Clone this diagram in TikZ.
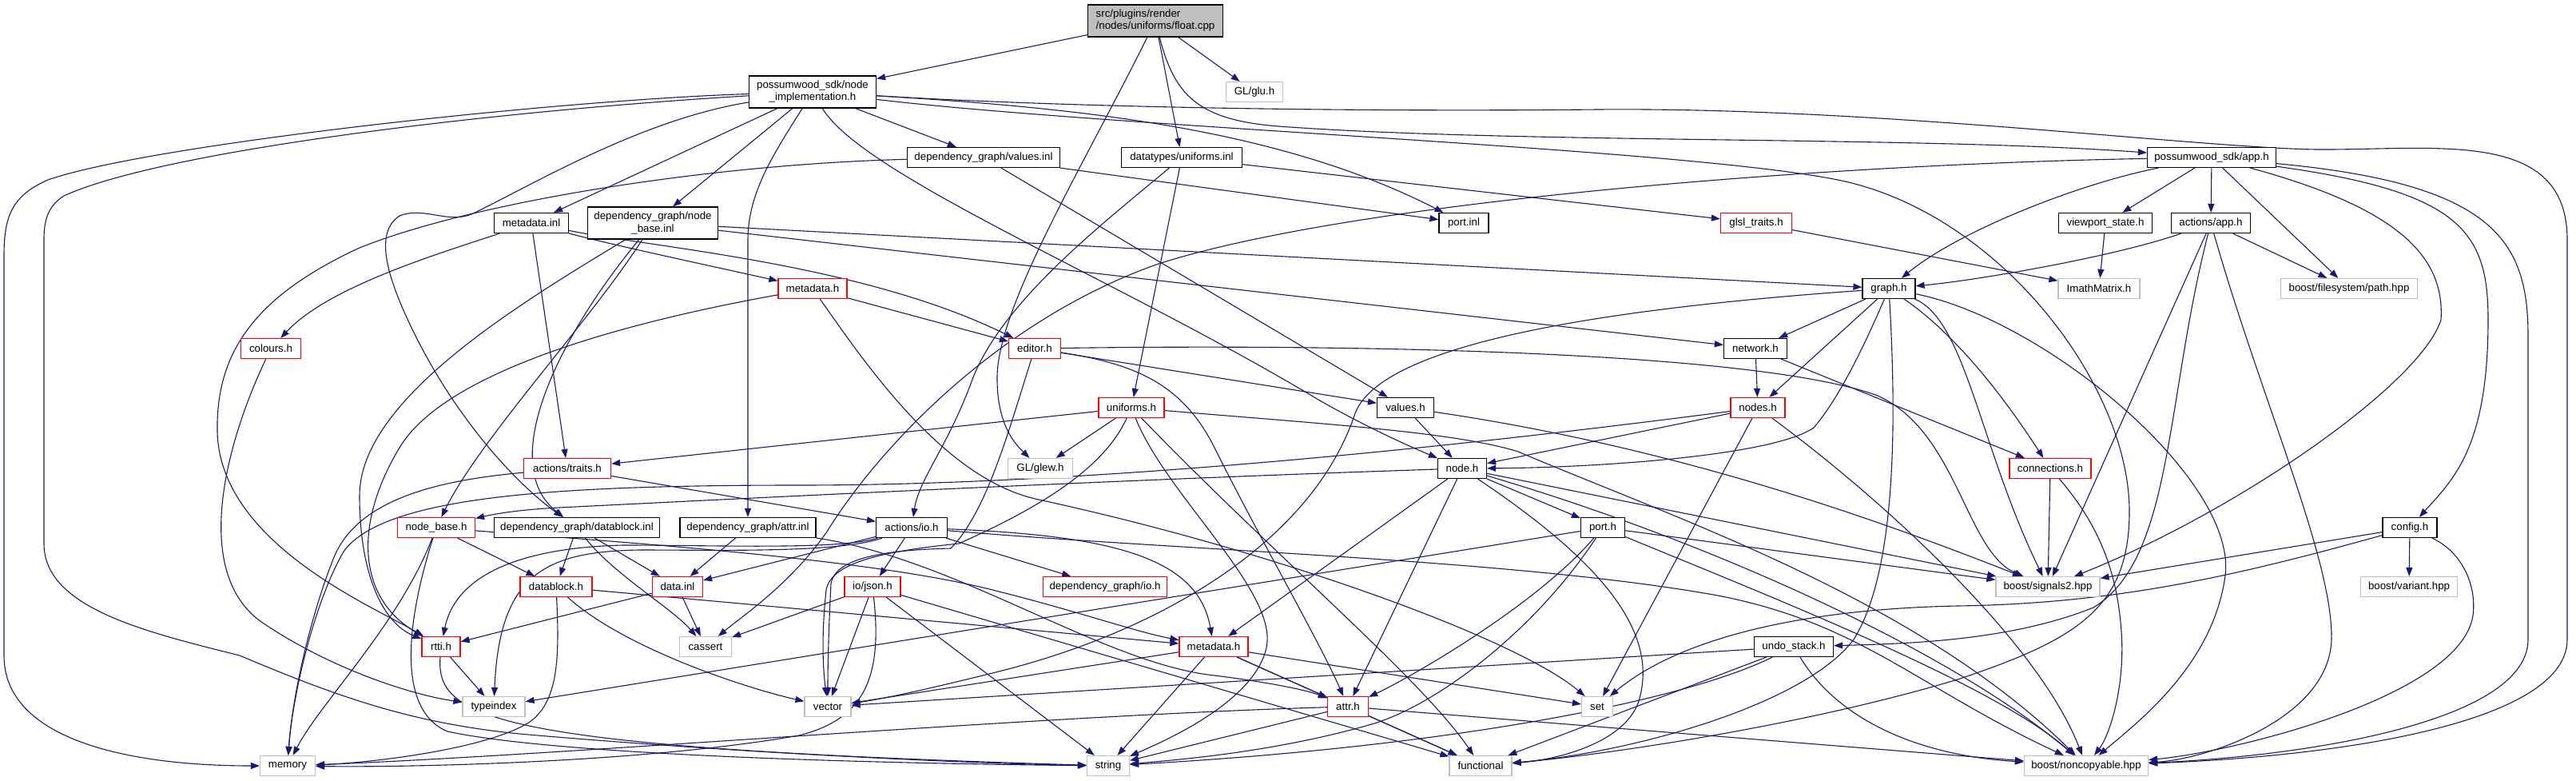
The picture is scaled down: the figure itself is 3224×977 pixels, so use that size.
\documentclass[tikz,border=0pt]{standalone}
\usepackage{fontspec}
\setmainfont{Liberation Sans}
\usetikzlibrary{arrows.meta}
\pgfdeclarelayer{edges}
\pgfsetlayers{edges,main}
\definecolor{edgec}{HTML}{191970}
\definecolor{gbord}{HTML}{BFBFBF}
\definecolor{redb}{HTML}{FF0000}
\begin{document}
\begin{tikzpicture}[x=1pt,y=-1pt,
  nd/.style={draw=black, line width=1.2pt, fill=white, minimum height=25pt, inner sep=0pt, font=\fontsize{13.3pt}{15pt}\selectfont, align=center},
  rd/.style={nd, draw=redb},
  gd/.style={nd, draw=gbord},
  e/.style={draw=edgec, line width=1.1pt, -{Triangle[length=11pt,width=8pt]}}]
\begin{pgfonlayer}{edges}
\fill[white] (0,0) rectangle (3224,977);
\end{pgfonlayer}
\useasboundingbox (0,0) rectangle (3224,977);
% nodes
\node[nd, fill=gbord, minimum width=169pt, minimum height=40pt, align=left] (root) at (1446,26) {src/plugins/render\\/nodes/uniforms/float.cpp};
\node[nd, minimum width=159pt, minimum height=40pt] (nimpl) at (1017,115) {possumwood\_sdk/node\\\_implementation.h};
\node[gd, minimum width=71pt] (glu) at (1570,115) {GL/glu.h};
\node[nd, minimum width=191pt] (valinl) at (1231,197) {dependency\_graph/values.inl};
\node[nd, minimum width=151pt] (uniinl) at (1479,197) {datatypes/uniforms.inl};
\node[nd, minimum width=161pt] (app) at (2768,197) {possumwood\_sdk/app.h};
\node[nd, minimum width=93pt] (mdinl) at (665,279) {metadata.inl};
\node[nd, minimum width=163pt, minimum height=40pt] (nbinl) at (817,279) {dependency\_graph/node\\\_base.inl};
\node[nd, minimum width=62pt] (portinl) at (1832,279) {port.inl};
\node[rd, minimum width=89pt] (glsl) at (2198,279) {glsl\_traits.h};
\node[nd, minimum width=117pt] (vps) at (2635,279) {viewport\_state.h};
\node[nd, minimum width=99pt] (aapp) at (2767,279) {actions/app.h};
\node[rd, minimum width=75pt] (colours) at (339,436) {colours.h};
\node[rd, minimum width=86pt] (mdh) at (1017,361) {metadata.h};
\node[rd, minimum width=65pt] (editor) at (1295,436) {editor.h};
\node[nd, minimum width=66pt] (graph) at (2364,361) {graph.h};
\node[nd, minimum width=79pt] (network) at (2197,436) {network.h};
\node[gd, minimum width=102pt] (imath) at (2627,361) {ImathMatrix.h};
\node[gd, minimum width=171pt] (fspath) at (2940,361) {boost/filesystem/path.hpp};
\node[rd, minimum width=82pt] (unih) at (1416,510) {uniforms.h};
\node[nd, minimum width=71pt] (valh) at (1759,510) {values.h};
\node[rd, minimum width=68pt] (nodes) at (2200,510) {nodes.h};
\node[rd, minimum width=109pt] (traits) at (710,586) {actions/traits.h};
\node[gd, minimum width=81pt] (glew) at (1302,586) {GL/glew.h};
\node[nd, minimum width=61pt] (nodeh) at (1830,586) {node.h};
\node[rd, minimum width=102pt] (conn) at (2566,586) {connections.h};
\node[rd, minimum width=97pt] (nbh) at (546,660) {node\_base.h};
\node[nd, minimum width=207pt] (dbinl) at (722,660) {dependency\_graph/datablock.inl};
\node[nd, minimum width=170pt] (attrinl) at (936,660) {dependency\_graph/attr.inl};
\node[nd, minimum width=89pt] (aio) at (1141,660) {actions/io.h};
\node[nd, minimum width=55pt] (porth) at (2006,660) {port.h};
\node[nd, minimum width=68pt] (config) at (3016,660) {config.h};
\node[rd, minimum width=90pt] (dbh) at (696,734) {datablock.h};
\node[rd, minimum width=63pt] (datainl) at (848,734) {data.inl};
\node[rd, minimum width=70pt] (json) at (1092,734) {io/json.h};
\node[rd, minimum width=155pt] (dgio) at (1383,734) {dependency\_graph/io.h};
\node[gd, minimum width=130pt] (signals) at (2563,734) {boost/signals2.hpp};
\node[gd, minimum width=121pt] (variant) at (3015,734) {boost/variant.hpp};
\node[rd, minimum width=48pt] (rtti) at (552,809) {rtti.h};
\node[gd, minimum width=65pt] (cassert) at (883,809) {cassert};
\node[rd, minimum width=86pt] (mdl) at (1519,809) {metadata.h};
\node[nd, minimum width=99pt] (undo) at (2245,809) {undo\_stack.h};
\node[gd, minimum width=78pt] (typeindex) at (618,884) {typeindex};
\node[gd, minimum width=58pt] (vector) at (1036,884) {vector};
\node[rd, minimum width=51pt] (attrh) at (1687,884) {attr.h};
\node[gd, minimum width=39pt] (set) at (1999,884) {set};
\node[gd, minimum width=69pt] (memory) at (360,958) {memory};
\node[gd, minimum width=53pt] (string) at (1387,958) {string};
\node[gd, minimum width=78pt] (functional) at (1853,958) {functional};
\node[gd, minimum width=155pt] (noncopy) at (2611,958) {boost/noncopyable.hpp};
\begin{pgfonlayer}{edges}
% root
\draw[e] (root) -- (nimpl);
\draw[e] (root) -- (glu);
\draw[e] (root) -- (uniinl);
\draw[e] (root) .. controls (1470,120) and (1500,150) .. (1600,158) .. controls (1900,180) and (2400,170) .. (app);
\draw[e] (root) .. controls (1360,200) and (1250,380) .. (1248,470) .. controls (1247,530) and (1270,555) .. (glew);
% node_implementation
\draw[e] (nimpl) .. controls (700,125) and (190,180) .. (60,225) .. controls (15,245) and (5,270) .. (5,320) -- (5,820) .. controls (5,925) and (160,958) .. (memory);
\draw[e] (nimpl) .. controls (600,140) and (200,190) .. (80,245) .. controls (60,258) and (55,275) .. (55,300) -- (55,680) .. controls (55,760) and (180,790) .. (300,820) .. controls (430,875) and (520,905) .. (650,918) .. controls (900,940) and (1200,955) .. (string);
\draw[e] (nimpl) -- (valinl);
\draw[e] (nimpl) -- (mdinl);
\draw[e] (nimpl) -- (nbinl);
\draw[e] (nimpl) .. controls (800,150) and (660,235) .. (590,268) .. controls (560,280) and (530,258) .. (500,270) .. controls (470,290) and (480,340) .. (520,420) .. controls (570,520) and (640,600) .. (dbinl);
\draw[e] (nimpl) .. controls (970,190) and (936,240) .. (936,300) -- (attrinl);
\draw[e] (nimpl) .. controls (1080,220) and (1400,350) .. (1650,500) .. controls (1720,540) and (1780,565) .. (nodeh);
\draw[e] (nimpl) .. controls (1350,135) and (1600,160) .. (portinl);
\draw[e] (nimpl) .. controls (1350,135) and (1700,140) .. (2000,137) .. controls (2350,134) and (2750,185) .. (2900,187) .. controls (3050,188) and (3213,160) .. (3213,300) -- (3213,800) .. controls (3213,900) and (2950,945) .. (noncopy);
\draw[e] (nimpl) .. controls (1400,160) and (2100,185) .. (2300,225) .. controls (2500,265) and (2665,480) .. (2665,640) .. controls (2665,760) and (2600,800) .. (2450,850) .. controls (2250,910) and (2000,945) .. (functional);
% values.inl
\draw[e] (valinl) -- (portinl);
\draw[e] (valinl) -- (valh);
\draw[e] (valinl) .. controls (900,205) and (600,250) .. (450,310) .. controls (320,370) and (270,440) .. (272,540) .. controls (275,680) and (470,760) .. (rtti);
% uniforms.inl
\draw[e] (uniinl) -- (glsl);
\draw[e] (uniinl) -- (unih);
\draw[e] (uniinl) .. controls (1380,280) and (1250,380) .. (1215,480) .. controls (1185,560) and (1150,600) .. (aio);
% app.h
\draw[e] (app) -- (vps);
\draw[e] (app) -- (aapp);
\draw[e] (app) -- (fspath);
\draw[e] (app) .. controls (2600,230) and (2450,290) .. (graph);
\draw[e] (app) .. controls (3000,260) and (3060,320) .. (3055,400) .. controls (3030,480) and (2800,640) .. (signals);
\draw[e] (app) .. controls (3080,240) and (3114,290) .. (3114,400) .. controls (3114,560) and (3070,600) .. (config);
\draw[e] (app) .. controls (3120,230) and (3164,300) .. (3164,420) -- (3164,800) .. controls (3164,900) and (2900,945) .. (noncopy);
\draw[e] (app) .. controls (2300,205) and (1700,250) .. (1450,330) .. controls (1250,400) and (1100,560) .. (1035,665) .. controls (990,730) and (930,770) .. (cassert);
% metadata.inl
\draw[e] (mdinl) .. controls (540,320) and (410,360) .. (colours);
\draw[e] (mdinl) .. controls (760,305) and (900,335) .. (mdh);
\draw[e] (mdinl) .. controls (820,310) and (1080,330) .. (editor);
\draw[e] (mdinl) -- (traits);
% node_base.inl
\draw[e] (nbinl) -- (graph);
\draw[e] (nbinl) -- (network);
\draw[e] (nbinl) .. controls (740,400) and (600,550) .. (nbh);
\draw[e] (nbinl) .. controls (700,420) and (620,580) .. (dbinl);
\draw[e] (nbinl) .. controls (650,380) and (450,500) .. (450,620) .. controls (450,720) and (480,780) .. (rtti);
% metadata.h (upper)
\draw[e] (mdh) -- (editor);
\draw[e] (mdh) .. controls (800,400) and (560,460) .. (500,560) .. controls (440,660) and (450,750) .. (rtti);
\draw[e] (mdh) .. controls (1080,450) and (1180,600) .. (1300,625) .. controls (1600,690) and (1900,800) .. (set);
% editor.h
\draw[e] (editor) -- (valh);
\draw[e] (editor) .. controls (1262,540) and (1235,640) .. (1190,686) .. controls (1100,688) and (1045,700) .. (1040,730) .. controls (1038,770) and (1036,820) .. (vector);
\draw[e] (editor) .. controls (1420,455) and (1480,480) .. (1520,560) .. controls (1580,680) and (1650,800) .. (attrh);
\draw[e] (editor) .. controls (1700,430) and (2200,440) .. (2350,495) .. controls (2450,540) and (2460,690) .. (signals);
% uniforms.h
\draw[e] (unih) -- (traits);
\draw[e] (unih) -- (glew);
\draw[e] (unih) .. controls (1460,620) and (1600,740) .. (1585,810) .. controls (1570,880) and (1450,930) .. (string);
\draw[e] (unih) .. controls (1600,700) and (1780,850) .. (functional);
\draw[e] (unih) .. controls (1380,590) and (1290,640) .. (1200,680) .. controls (1100,690) and (1040,705) .. (1034,738) .. controls (1030,775) and (1028,820) .. (vector);
\draw[e] (unih) .. controls (1650,530) and (1820,540) .. (1900,565) .. controls (2100,650) and (2400,750) .. (noncopy);
% values.h
\draw[e] (valh) -- (nodeh);
\draw[e] (valh) .. controls (2100,560) and (2350,650) .. (signals);
% nodes.h
\draw[e] (nodes) -- (nodeh);
\draw[e] (nodes) -- (set);
\draw[e] (nodes) .. controls (2350,620) and (2550,800) .. (noncopy);
\draw[e] (nodes) .. controls (1700,575) and (1300,607) .. (1000,607) .. controls (700,607) and (480,620) .. (430,690) .. controls (390,760) and (365,880) .. (memory);
% node.h
\draw[e] (nodeh) .. controls (1400,600) and (900,625) .. (700,635) .. controls (640,638) and (610,645) .. (nbh);
\draw[e] (nodeh) -- (porth);
\draw[e] (nodeh) -- (attrh);
\draw[e] (nodeh) -- (mdl);
\draw[e] (nodeh) .. controls (2000,700) and (2080,790) .. (2050,880) .. controls (2030,930) and (1950,950) .. (functional);
\draw[e] (nodeh) -- (signals);
\draw[e] (nodeh) .. controls (2150,680) and (2450,820) .. (noncopy);
% port.h
\draw[e] (porth) .. controls (1920,760) and (1760,850) .. (attrh);
\draw[e] (porth) .. controls (1920,790) and (1800,880) .. (1720,905) .. controls (1600,940) and (1480,950) .. (string);
\draw[e] (porth) -- (typeindex);
\draw[e] (porth) -- (signals);
\draw[e] (porth) .. controls (2250,760) and (2500,860) .. (noncopy);
% config.h
\draw[e] (config) -- (signals);
\draw[e] (config) -- (variant);
\draw[e] (config) .. controls (3080,690) and (3100,730) .. (3095,770) .. controls (3080,870) and (2800,940) .. (noncopy);
\draw[e] (config) .. controls (2800,720) and (2650,755) .. (2450,758) .. controls (2250,762) and (2100,800) .. (set);
% connections.h
\draw[e] (conn) -- (signals);
\draw[e] (conn) .. controls (2630,660) and (2650,720) .. (2655,790) .. controls (2660,860) and (2640,920) .. (noncopy);
% network.h
\draw[e] (network) -- (nodes);
\draw[e] (network) -- (conn);
% graph.h
\draw[e] (graph) -- (network);
\draw[e] (graph) -- (nodes);
\draw[e] (graph) .. controls (2330,440) and (2300,500) .. (2270,535) .. controls (2220,570) and (2000,585) .. (nodeh);
\draw[e] (graph) .. controls (2450,420) and (2510,500) .. (conn);
\draw[e] (graph) .. controls (2460,400) and (2478,560) .. (signals);
\draw[e] (graph) .. controls (2560,400) and (2800,600) .. (2785,720) .. controls (2770,830) and (2680,900) .. (noncopy);
\draw[e] (graph) .. controls (2375,550) and (2370,720) .. (2320,800) .. controls (2260,880) and (2050,940) .. (functional);
\draw[e] (graph) .. controls (1950,390) and (1720,440) .. (1695,520) .. controls (1640,680) and (1450,790) .. (1250,840) .. controls (1150,865) and (1100,875) .. (vector);
% actions/app.h
\draw[e] (aapp) .. controls (2650,320) and (2480,350) .. (graph);
\draw[e] (aapp) -- (fspath);
\draw[e] (aapp) -- (signals);
\draw[e] (aapp) .. controls (2710,500) and (2720,700) .. (2620,760) .. controls (2520,800) and (2400,805) .. (undo);
\draw[e] (aapp) .. controls (2830,500) and (2920,700) .. (2918,800) .. controls (2915,900) and (2760,950) .. (noncopy);
% misc
\draw[e] (vps) -- (imath);
\draw[e] (glsl) -- (imath);
\draw[e] (colours) .. controls (280,560) and (240,720) .. (330,780) .. controls (420,840) and (520,870) .. (typeindex);
% traits
\draw[e] (traits) .. controls (560,600) and (450,620) .. (418,697) .. controls (385,780) and (365,880) .. (memory);
\draw[e] (traits) -- (aio);
% node_base.h
\draw[e] (nbh) -- (dbh);
\draw[e] (nbh) .. controls (500,780) and (400,880) .. (memory);
\draw[e] (nbh) .. controls (505,790) and (500,890) .. (560,915) .. controls (700,945) and (1100,955) .. (string);
\draw[e] (nbh) .. controls (800,680) and (1100,700) .. (1250,740) .. controls (1350,765) and (1420,790) .. (mdl);
% datablock.inl
\draw[e] (dbinl) -- (dbh);
\draw[e] (dbinl) -- (datainl);
\draw[e] (dbinl) .. controls (770,720) and (840,760) .. (cassert);
% datablock.h
\draw[e] (dbh) -- (mdl);
\draw[e] (dbh) .. controls (700,820) and (700,880) .. (660,905) .. controls (600,940) and (450,955) .. (memory);
\draw[e] (dbh) .. controls (780,810) and (930,860) .. (vector);
% data.inl
\draw[e] (datainl) -- (rtti);
\draw[e] (datainl) -- (cassert);
% attr.inl
\draw[e] (attrinl) -- (datainl);
\draw[e] (attrinl) .. controls (1200,700) and (1380,830) .. (1520,845) .. controls (1600,855) and (1640,865) .. (attrh);
% actions/io.h
\draw[e] (aio) -- (datainl);
\draw[e] (aio) -- (json);
\draw[e] (aio) -- (dgio);
\draw[e] (aio) .. controls (1050,688) and (900,682) .. (780,682) .. controls (650,685) and (570,720) .. (rtti);
\draw[e] (aio) .. controls (1050,692) and (900,688) .. (800,688) .. controls (680,690) and (625,720) .. (typeindex);
\draw[e] (aio) .. controls (1400,670) and (1500,700) .. (mdl);
\draw[e] (aio) .. controls (1500,690) and (1900,700) .. (2150,745) .. controls (2330,780) and (2400,860) .. (noncopy);
% io/json.h
\draw[e] (json) -- (cassert);
\draw[e] (json) -- (vector);
\draw[e] (json) -- (string);
\draw[e] (json) .. controls (1105,850) and (1080,900) .. (1000,920) .. controls (800,955) and (500,960) .. (memory);
\draw[e] (json) -- (functional);
% metadata.h (lower)
\draw[e] (mdl) -- (vector);
\draw[e] (mdl) -- (string);
\draw[e] (mdl) -- (set);
\draw[e] (mdl) -- (functional);
\draw[e] (mdl) -- (attrh);
% rtti.h
\draw[e] (rtti) -- (typeindex);
\draw[e] (rtti) .. controls (545,900) and (620,935) .. (string);
% attr.h
\draw[e] (attrh) .. controls (1300,895) and (700,945) .. (memory);
\draw[e] (attrh) -- (string);
\draw[e] (attrh) -- (functional);
\draw[e] (attrh) -- (noncopy);
% undo_stack.h
\draw[e] (undo) -- (vector);
\draw[e] (undo) .. controls (2100,880) and (1800,935) .. (string);
\draw[e] (undo) -- (functional);
\draw[e] (undo) .. controls (2300,900) and (2400,945) .. (noncopy);
\end{pgfonlayer}
\end{tikzpicture}
\end{document}
